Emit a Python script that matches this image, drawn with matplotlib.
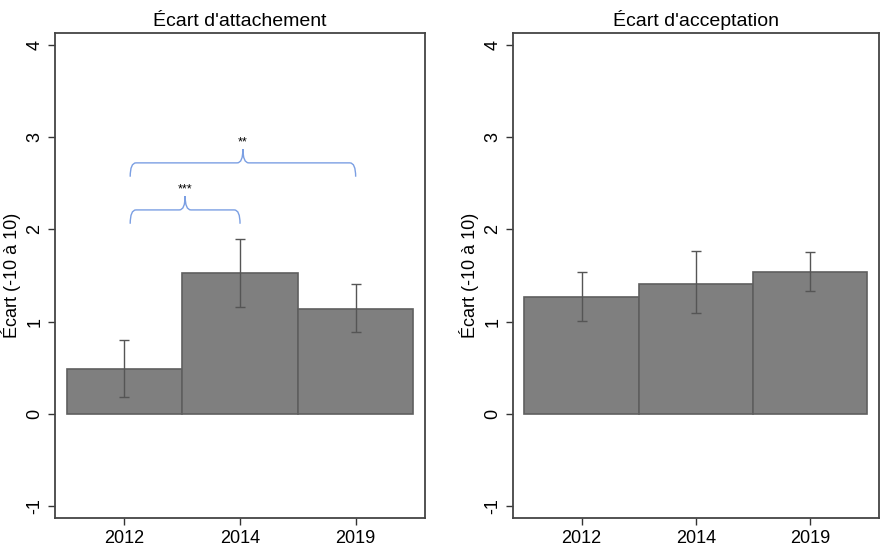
import numpy as np
import matplotlib
matplotlib.use("Agg")
import matplotlib.pyplot as plt
from matplotlib.path import Path
from matplotlib.patches import PathPatch

plt.rcParams['font.family'] = ['Liberation Sans', 'DejaVu Sans']

# data
years = ["2012", "2014", "2019"]
attach_mean = [0.49, 1.53, 1.14]
attach_lo = [0.18, 1.16, 0.89]
attach_hi = [0.80, 1.90, 1.41]
accept_mean = [1.27, 1.41, 1.54]
accept_lo = [1.01, 1.09, 1.33]
accept_hi = [1.54, 1.77, 1.75]

titles = ["Écart d'attachement", "Écart d'acceptation"]
ylabel = "Écart (-10 à 10)"

# significance braces on left panel: (start index, end index, height, stars)
brace_from = [0, 0]
brace_to = [1, 2]
brace_y = [2.21, 2.72]
brace_stars = ["***", "**"]

bar_col = "#7f7f7f"
edge_col = "#5f5f5f"
err_col = "#555555"
brace_col = "#7b9fe3"


def draw_brace(ax, x0, x1, y, depth=0.15, tip=0.15):
    xm = (x0 + x1) / 2
    r = 0.05
    verts = [(x0, y - depth), (x0, y), (x0 + r, y),
             (xm - r, y), (xm, y), (xm, y + tip),
             (xm, y), (xm + r, y),
             (x1 - r, y), (x1, y), (x1, y - depth)]
    codes = [Path.MOVETO, Path.CURVE3, Path.CURVE3,
             Path.LINETO, Path.CURVE3, Path.CURVE3,
             Path.CURVE3, Path.CURVE3,
             Path.LINETO, Path.CURVE3, Path.CURVE3]
    ax.add_patch(PathPatch(Path(verts, codes), fill=False,
                           edgecolor=brace_col, linewidth=1.0))


fig = plt.figure(figsize=(8.82, 5.47), dpi=100)
ax1 = fig.add_axes([0.0624, 0.053, 0.4195, 0.887])
ax2 = fig.add_axes([0.5816, 0.053, 0.4145, 0.887])

panels = [(ax1, attach_mean, attach_lo, attach_hi),
          (ax2, accept_mean, accept_lo, accept_hi)]

for i, (ax, mean, lo, hi) in enumerate(panels):
    x = np.arange(len(years))
    mean = np.array(mean)
    yerr = [mean - np.array(lo), np.array(hi) - mean]
    ax.bar(x, mean, width=1.0, color=bar_col, edgecolor=edge_col, linewidth=1.2)
    ax.errorbar(x, mean, yerr=yerr, fmt="none", ecolor=err_col,
                elinewidth=1.0, capsize=3.5, capthick=1.0)
    ax.set_xlim(-0.6, 2.6)
    ax.set_ylim(-1.13, 4.13)
    ax.set_xticks(x)
    ax.set_xticklabels(years, fontsize=13)
    ax.set_yticks([-1, 0, 1, 2, 3, 4])
    ax.set_yticklabels(["-1", "0", "1", "2", "3", "4"], fontsize=13,
                       rotation=90, va="center")
    ax.tick_params(direction="out", length=5, width=1, color="#333333")
    for s in ax.spines.values():
        s.set_color("#444444")
        s.set_linewidth(1.3)
    ax.set_title(titles[i], fontsize=14, pad=5)
    ax.set_ylabel(ylabel, fontsize=13, labelpad=4)

for a, b, y, st in zip(brace_from, brace_to, brace_y, brace_stars):
    draw_brace(ax1, a + 0.05, b, y)
    ax1.text((a + 0.05 + b) / 2, y + 0.22, st, ha="center", va="center",
             fontsize=9)

fig.savefig("out.png", dpi=100)
